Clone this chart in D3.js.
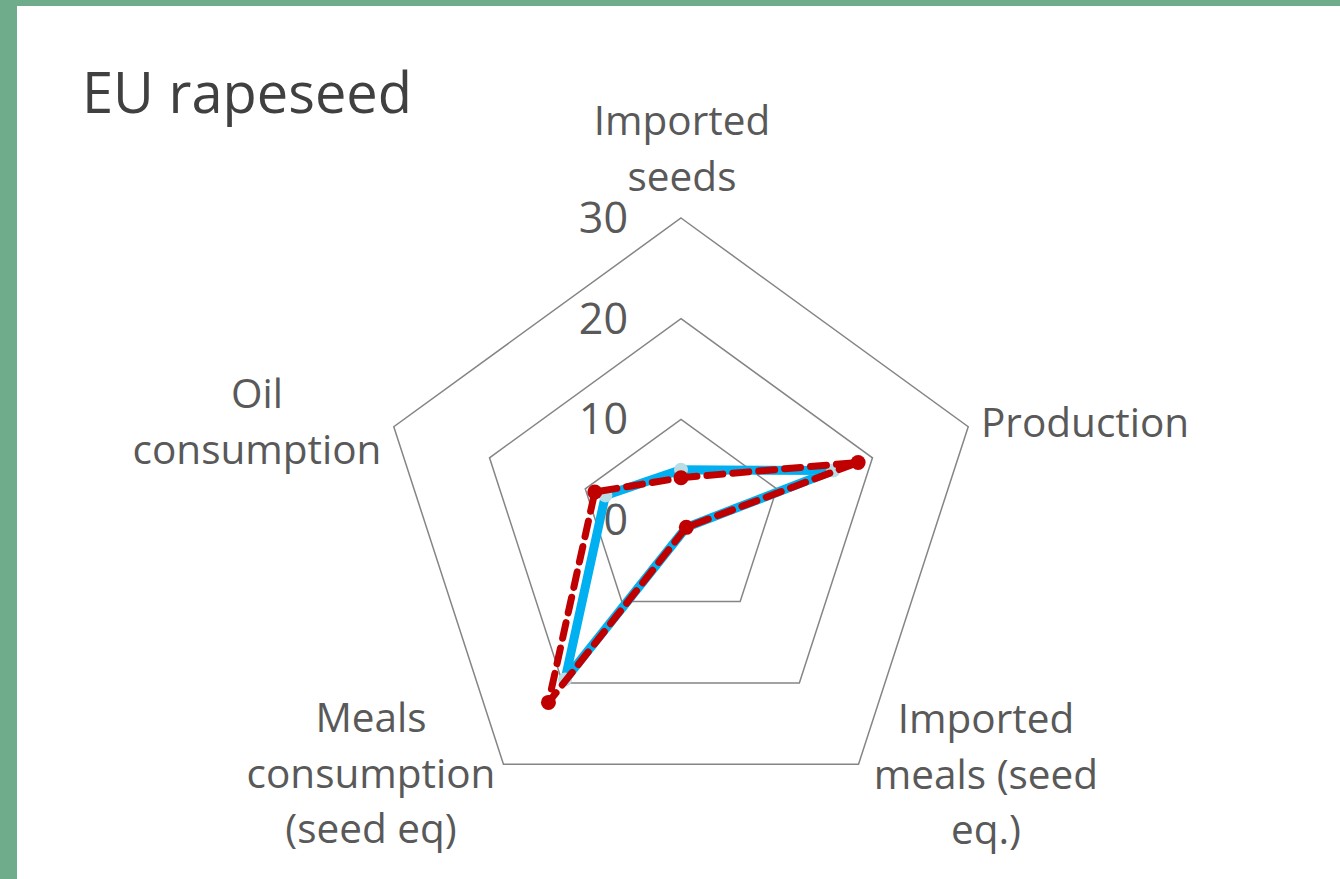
<!DOCTYPE html>
<html>
<head>
<meta charset="utf-8">
<script src="https://cdn.jsdelivr.net/npm/d3@7"></script>
<style>
  html, body { margin: 0; padding: 0; background: #ffffff; }
  svg { display: block; }
</style>
</head>
<body>
<svg id="chart" width="1340" height="879"></svg>
<script>
// ---- data ----
const title = "EU rapeseed";
const categories = [
  ["Imported", "seeds"],
  ["Production"],
  ["Imported", "meals (seed", "eq.)"],
  ["Meals", "consumption", "(seed eq)"],
  ["Oil", "consumption"]
];
const tickValues = [0, 10, 20, 30];
const seriesBlue = [5.0, 15.9, 0.9, 19.6, 7.9];
const seriesRed = [4.2, 18.5, 0.9, 22.4, 9.0];

// ---- layout ----
const W = 1340, H = 879;
const cx = 681, cy = 520, R = 302;
const svg = d3.select("#chart");

// background + green frame
svg.append("rect").attr("x", 0).attr("y", 0).attr("width", W).attr("height", H).attr("fill", "#6fac8c");
svg.append("rect").attr("x", 17).attr("y", 6).attr("width", W - 17).attr("height", H - 6).attr("fill", "#ffffff");

svg.append("text").attr("x", 82).attr("y", 113)
  .attr("font-family", "'Open Sans', sans-serif").attr("font-size", 56)
  .attr("fill", "#404040").text(title);

const r = d3.scaleLinear().domain([0, 30]).range([0, R]);
const n = categories.length;
const ang = d3.scaleLinear().domain([0, n]).range([0, 2 * Math.PI]);
const pt = (i, v) => [cx + r(v) * Math.sin(ang(i)), cy - r(v) * Math.cos(ang(i))];

const g = svg.append("g");

// grid pentagons
tickValues.filter(t => t > 0).forEach(t => {
  const pts = d3.range(n).map(i => pt(i, t));
  g.append("path").attr("d", d3.line()(pts) + "Z")
    .attr("fill", "none").attr("stroke", "#858585").attr("stroke-width", 1.5);
});

// tick labels
g.selectAll("text.tick").data(tickValues).enter().append("text")
  .attr("class", "tick")
  .attr("x", cx - 53).attr("y", d => cy - r(d) + 15)
  .attr("text-anchor", "end")
  .attr("font-family", "'Open Sans', sans-serif").attr("font-size", 43)
  .attr("fill", "#595959").text(d => d);

// category labels
const labelPos = [
  { x: 682, y: 135, anchor: "middle" },
  { x: 981, y: 437, anchor: "start" },
  { x: 986, y: 733, anchor: "middle" },
  { x: 371, y: 732, anchor: "middle" },
  { x: 257, y: 408, anchor: "middle" }
];
categories.forEach((lines, i) => {
  const t = g.append("text")
    .attr("x", labelPos[i].x).attr("y", labelPos[i].y)
    .attr("text-anchor", labelPos[i].anchor)
    .attr("font-family", "'Open Sans', sans-serif").attr("font-size", 40.5)
    .attr("fill", "#595959");
  lines.forEach((l, j) => {
    t.append("tspan").attr("x", labelPos[i].x).attr("dy", j === 0 ? 0 : 55.5).text(l);
  });
});

// series
const line = d3.line().curve(d3.curveLinearClosed);
const bluePts = seriesBlue.map((v, i) => pt(i, v));
const redPts = seriesRed.map((v, i) => pt(i, v));

g.append("path").attr("d", line(bluePts)).attr("fill", "none")
  .attr("stroke", "#00b0f0").attr("stroke-width", 9).attr("stroke-linejoin", "round");
g.selectAll("circle.b").data(bluePts).enter().append("circle").attr("class", "b")
  .attr("cx", d => d[0]).attr("cy", d => d[1]).attr("r", 7).attr("fill", "#b7dee6");

g.append("path").attr("d", line(redPts)).attr("fill", "none")
  .attr("stroke", "#c00000").attr("stroke-width", 7)
  .attr("stroke-dasharray", "16,10").attr("stroke-linecap", "round").attr("stroke-linejoin", "round");
g.selectAll("circle.r").data(redPts).enter().append("circle").attr("class", "r")
  .attr("cx", d => d[0]).attr("cy", d => d[1]).attr("r", 7.5).attr("fill", "#c00000");
</script>
</body>
</html>
